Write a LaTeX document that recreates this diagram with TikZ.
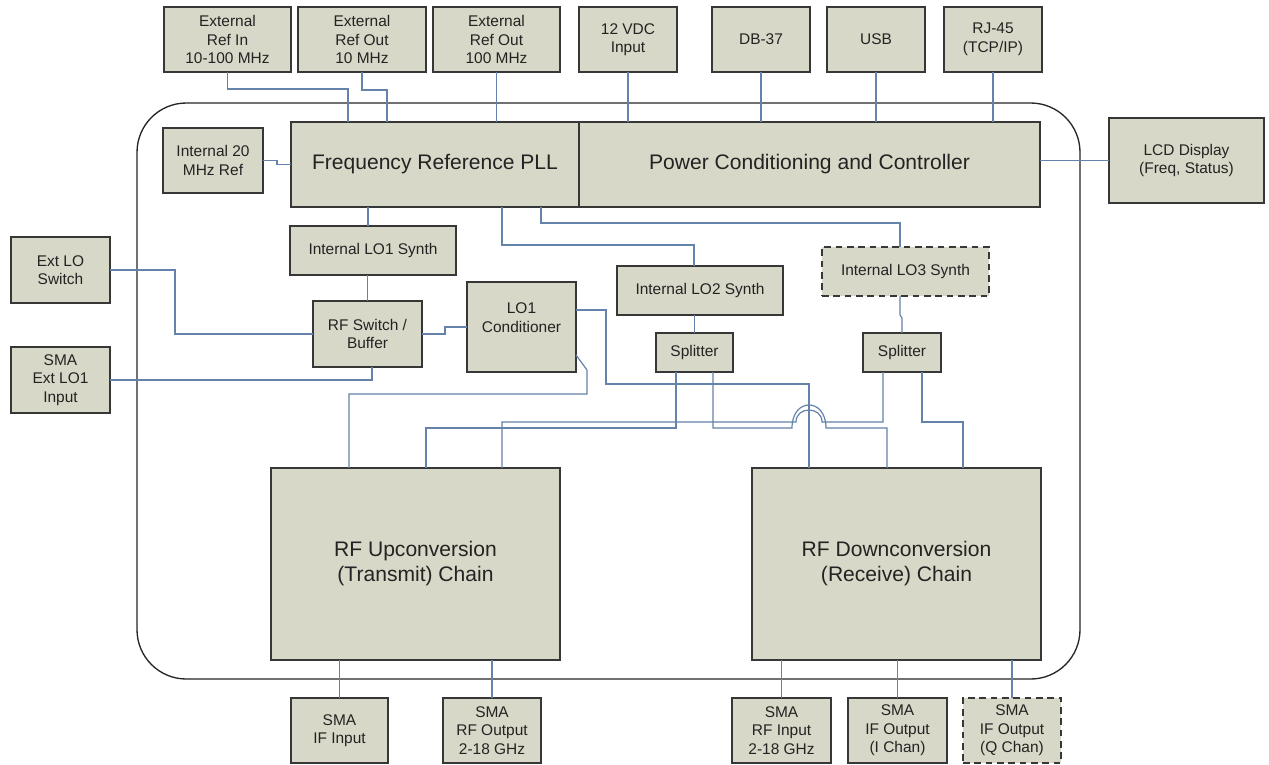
\documentclass[tikz,border=0pt]{standalone}
\usepackage{fontspec}
\setmainfont{Liberation Sans}
\definecolor{boxfill}{RGB}{216,216,200}
\definecolor{boxline}{RGB}{55,55,55}
\definecolor{wire}{RGB}{100,130,170}
\definecolor{txt}{RGB}{35,35,35}
\tikzset{
  box/.style={draw=boxline, fill=boxfill, line width=1.2pt, inner sep=0pt, outer sep=0pt,
              align=center, text=txt, font=\fontsize{11.6}{13.9}\selectfont},
  big/.style={font=\fontsize{15.8}{18.8}\selectfont},
  dsh/.style={dash pattern=on 5pt off 3.5pt},
  conn/.style={draw=wire, line width=0.9pt},
  frame/.style={draw=black!85, line width=1pt, rounded corners=37pt}
}
\newcommand{\blk}[7][]{%
  \node[box,#1,minimum width={(#5-#3)*0.75pt},minimum height={(#6-#4)*0.75pt}]
    (#2) at ({(#3+#5)/2},{(#4+#6)/2}) {#7};}
\begin{document}
\begin{tikzpicture}[x=0.75pt,y=-0.75pt]
\useasboundingbox (0,0) rectangle (1269,764);
\fill[white] (0,0) rectangle (1269,764);
\draw[frame] (137,103) rectangle (1080,679);
% top connectors boxes
\blk{refin}{164}{7}{291}{72}{External\\Ref In\\10-100 MHz}
\blk{refout10}{298}{7}{426}{72}{External\\Ref Out\\10 MHz}
\blk{refout100}{433}{7}{560}{72}{External\\Ref Out\\100 MHz}
\blk{vdc}{579}{7}{677}{72}{12 VDC\\Input}
\blk{db}{712}{7}{810}{72}{DB-37}
\blk{usb}{827}{7}{925}{72}{USB}
\blk{rj}{944}{7}{1042}{72}{RJ-45\\(TCP/IP)}
\blk{lcd}{1109}{118}{1264}{203}{LCD Display\\(Freq, Status)}
% main blocks
\blk[big]{pll}{291}{122}{579}{207}{Frequency Reference PLL}
\blk[big]{power}{579}{122}{1040}{207}{Power Conditioning and Controller}
\blk{int20}{163}{128}{263}{193}{Internal 20\\MHz Ref}
\blk{extlo}{11}{237}{110}{303}{Ext LO\\Switch}
\blk{smaext}{11}{347}{110}{413}{SMA\\Ext LO1\\Input}
\blk{lo1syn}{290}{226}{456}{275}{Internal LO1 Synth}
\blk{rfsw}{313}{301}{422}{367}{RF Switch /\\Buffer}
\blk{lo1c}{467}{282}{576}{372}{LO1\\Conditioner\\\mbox{}}
\blk{lo2syn}{617}{266}{783}{315}{Internal LO2 Synth}
\blk{splL}{656}{333}{733}{372}{Splitter}
\blk[dsh]{lo3syn}{822}{247}{989}{296}{Internal LO3 Synth}
\blk{splR}{863}{333}{941}{372}{Splitter}
\blk[big]{upc}{271}{468}{560}{660}{RF Upconversion\\(Transmit) Chain}
\blk[big]{dnc}{752}{468}{1041}{660}{RF Downconversion\\(Receive) Chain}
% bottom connectors boxes
\blk{ifin}{291}{698}{388}{763}{SMA\\IF Input}
\blk{rfout}{443}{698}{541}{763}{SMA\\RF Output\\2-18 GHz}
\blk{rfin}{732}{698}{831}{763}{SMA\\RF Input\\2-18 GHz}
\blk{ifi}{848}{698}{947}{763}{SMA\\IF Output\\(I Chan)}
\blk[dsh]{ifq}{963}{698}{1061}{763}{SMA\\IF Output\\(Q Chan)}
% wires
\draw[conn] (refin.south) |- (348,89) -- (348,89 |- pll.north);
\draw[conn] (refout10.south) |- (387,90) -- (387,90 |- pll.north);
\draw[conn] (refout100.south) -- (refout100.south |- pll.north);
\draw[conn] (vdc.south) -- (vdc.south |- power.north);
\draw[conn] (db.south) -- (db.south |- power.north);
\draw[conn] (usb.south) -- (usb.south |- power.north);
\draw[conn] (rj.south) -- (rj.south |- power.north);
\draw[conn] (int20.east) -- ++(14,0) |- (pll.west);
\draw[conn] (lcd.west -| power.east) -- (lcd.west);
\draw[conn] (368,0 |- pll.south) -- (368,0 |- lo1syn.north);
\draw[conn] (rfsw.north |- lo1syn.south) -- (rfsw.north);
\draw[conn] (502,0 |- pll.south) |- (694,245) -- (694,0 |- lo2syn.north);
\draw[conn] (541,0 |- pll.south) |- (900,223) -- (900,0 |- lo3syn.north);
\draw[conn] (splL.north |- lo2syn.south) -- (splL.north);
\draw[conn] (900,0 |- lo3syn.south) -- (900,315) -- (902,318) -- (902,0 |- splR.north);
\draw[conn] (extlo.east) -| (175,334) -- (rfsw.west);
\draw[conn] (smaext.east) -| (372,0 |- rfsw.south);
\draw[conn] (rfsw.east) -- (445,334) |- (lo1c.west);
\draw[conn] (lo1c.east |- 0,355) -- (587,370) -- (587,394) -| (349,0 |- upc.north);
\draw[conn] (lo1c.east |- 0,310) -| (606,384) -| (809,0 |- dnc.north);
\draw[conn] (676,0 |- splL.south) |- (426,428) -- (426,0 |- upc.north);
\draw[conn] (883,0 |- splR.south) |- (822,422) .. controls (822,406) and (796,406) .. (796,422) -| (502,0 |- upc.north);
\draw[conn] (713,0 |- splL.south) |- (792,428) .. controls (792,397.3) and (826,397.3) .. (826,428) -| (887,0 |- dnc.north);
\draw[conn] (922,0 |- splR.south) |- (963,422) -- (963,0 |- dnc.north);
\draw[conn] (ifin.north |- upc.south) -- (ifin.north);
\draw[conn] (rfout.north |- upc.south) -- (rfout.north);
\draw[conn] (rfin.north |- dnc.south) -- (rfin.north);
\draw[conn] (ifi.north |- dnc.south) -- (ifi.north);
\draw[conn] (ifq.north |- dnc.south) -- (ifq.north);
\end{tikzpicture}
\end{document}
